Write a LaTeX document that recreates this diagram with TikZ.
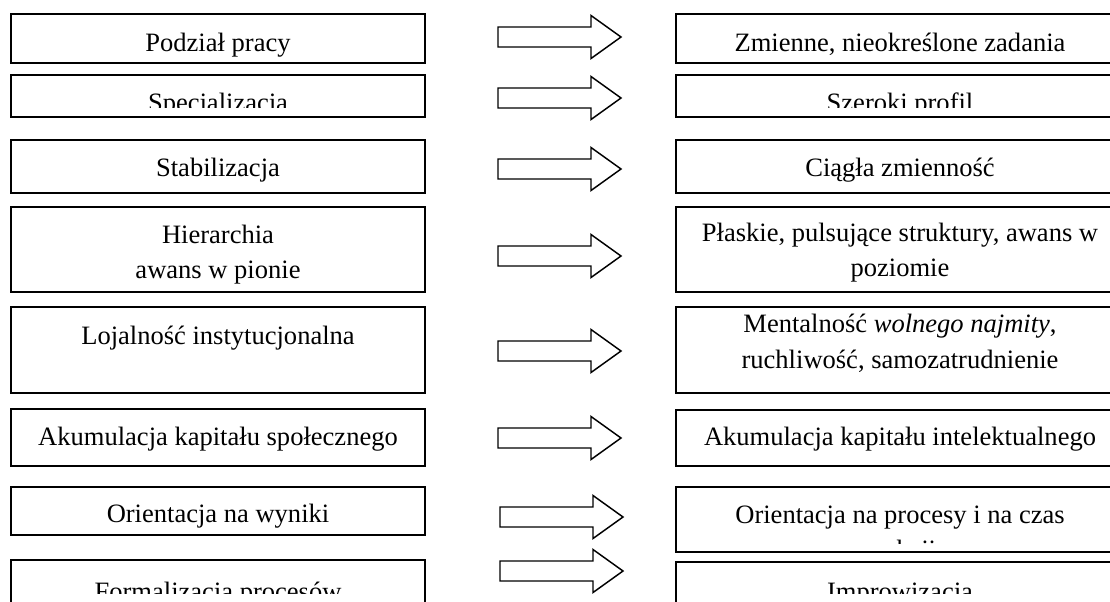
\documentclass[tikz,border=0pt]{standalone}
\usepackage{fontspec}
\setmainfont{Liberation Serif}
\usetikzlibrary{fit}
\begin{document}
\begin{tikzpicture}[x=0.75pt,y=-0.75pt,
  box/.style={draw=black, line width=1.5pt, inner sep=0pt, rectangle},
  txt/.style={inner sep=0pt, anchor=base, font=\fontsize{19.9}{26}\selectfont},
  arrowline/.style={draw=black, line width=1.1pt, line join=miter, fill=white},
  blockarrow/.pic={\path[arrowline] (0,-10) -- (93,-10) -- (93,-21.5) -- (123,0) -- (93,21.5) -- (93,10) -- (0,10) -- cycle;}]
\useasboundingbox (0,0) rectangle (1110,601);
\clip (0,0) rectangle (1110,601);

% left boxes
\node[box, fit={(11,14) (425,63)}] (L1) {};
\node[box, fit={(11,75) (425,117)}] (L2) {};
\node[box, fit={(11,140) (425,193)}] (L3) {};
\node[box, fit={(11,207) (425,292)}] (L4) {};
\node[box, fit={(11,307) (425,393)}] (L5) {};
\node[box, fit={(11,409) (425,466)}] (L6) {};
\node[box, fit={(11,487) (425,535)}] (L7) {};
\node[box, fit={(11,560) (425,625)}] (L8) {};

% right boxes
\node[box, fit={(676,14) (1124,63)}] (R1) {};
\node[box, fit={(676,75) (1124,117)}] (R2) {};
\node[box, fit={(676,140) (1124,193)}] (R3) {};
\node[box, fit={(676,207) (1124,292)}] (R4) {};
\node[box, fit={(676,307) (1124,393)}] (R5) {};
\node[box, fit={(676,410) (1124,466)}] (R6) {};
\node[box, fit={(676,487) (1124,552)}] (R7) {};
\node[box, fit={(676,562) (1124,625)}] (R8) {};

% arrows
\pic at (498,37) {blockarrow};
\pic at (498,98) {blockarrow};
\pic at (498,169) {blockarrow};
\pic at (498,256) {blockarrow};
\pic at (498,351) {blockarrow};
\pic at (498,438) {blockarrow};
\pic at (500,517) {blockarrow};
\pic at (500,571) {blockarrow};

% left texts
\node[txt] (tL1) at (218,51) {Podział pracy};
\begin{scope}
\clip (11,75) rectangle (425,107);
\node[txt] (tL2) at (218,111) {Specjalizacja};
\end{scope}
\node[txt] (tL3) at (218,176) {Stabilizacja};
\node[txt] (tL4a) at (218,243) {Hierarchia};
\node[txt] (tL4b) at (218,278) {awans w pionie};
\node[txt] (tL5) at (218,344) {Lojalność instytucjonalna};
\node[txt] (tL6) at (218,445) {Akumulacja kapitału społecznego};
\node[txt] (tL7) at (218,522) {Orientacja na wyniki};
\begin{scope}
\clip (11,560) rectangle (425,593);
\node[txt] (tL8) at (218,600) {Formalizacja procesów};
\end{scope}

% right texts
\node[txt] (tR1) at (900,51) {Zmienne, nieokreślone zadania};
\begin{scope}
\clip (676,75) rectangle (1124,107);
\node[txt] (tR2) at (900,111) {Szeroki profil};
\end{scope}
\node[txt] (tR3) at (900,176) {Ciągła zmienność};
\node[txt] (tR4a) at (900,241) {Płaskie, pulsujące struktury, awans w};
\node[txt] (tR4b) at (900,276) {poziomie};
\node[txt] (tR5a) at (900,332) {Mentalność \textit{wolnego najmity},};
\node[txt] (tR5b) at (900,368) {ruchliwość, samozatrudnienie};
\node[txt] (tR6) at (900,445) {Akumulacja kapitału intelektualnego};
\begin{scope}
\clip (676,487) rectangle (1124,543);
\node[txt] (tR7a) at (900,523) {Orientacja na procesy i na czas};
\node[txt] (tR7b) at (900,558) {reakcji};
\end{scope}
\begin{scope}
\clip (676,562) rectangle (1124,593);
\node[txt] (tR8) at (900,600) {Improwizacja};
\end{scope}
\end{tikzpicture}
\end{document}
